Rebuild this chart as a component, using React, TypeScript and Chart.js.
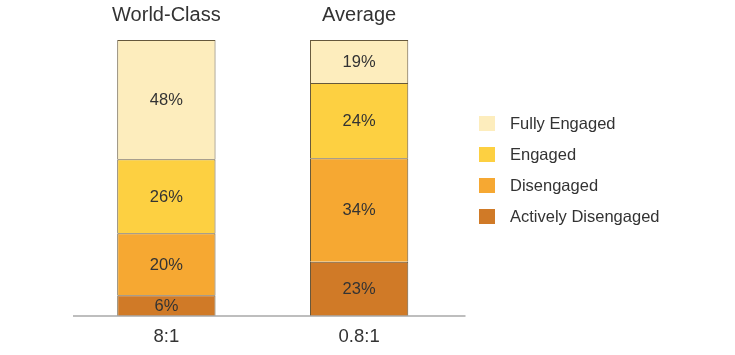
import React, { useEffect, useRef } from "react";
import { Chart, registerables } from "chart.js";

Chart.register(...registerables);

const ratios = ["8:1", "0.8:1"];
const groups = ["World-Class", "Average"];
const seriesNames = ["Actively Disengaged", "Disengaged", "Engaged", "Fully Engaged"];
const seriesColors = ["#D07A27", "#F6A832", "#FDD041", "#FDEDBD"];

// segment heights as drawn (percent of bar)
const activelyDisengaged = [7.5, 19.7];
const disengaged = [22.5, 37.5];
const engaged = [26.8, 27.2];
const fullyEngaged = [43.2, 15.6];

// printed labels
const activelyDisengagedLabels = ["6%", "23%"];
const disengagedLabels = ["20%", "34%"];
const engagedLabels = ["26%", "24%"];
const fullyEngagedLabels = ["48%", "19%"];

const FONT = "'Liberation Sans', Arial, sans-serif";
const TEXT = "#333333";

export default function App() {
  const ref = useRef<HTMLCanvasElement | null>(null);

  useEffect(() => {
    if (!ref.current) return;
    const values = [activelyDisengaged, disengaged, engaged, fullyEngaged];
    const labels = [activelyDisengagedLabels, disengagedLabels, engagedLabels, fullyEngagedLabels];

    const axisLine = {
      id: "axisLine",
      afterDatasetsDraw(chart: any) {
        const { ctx, chartArea } = chart;
        ctx.save();
        ctx.strokeStyle = "#a8a8a8";
        ctx.lineWidth = 1.5;
        ctx.beginPath();
        ctx.moveTo(chartArea.left + 3, chartArea.bottom);
        ctx.lineTo(chartArea.right + 10, chartArea.bottom);
        ctx.stroke();
        ctx.restore();
      },
    };

    const segLabels = {
      id: "segLabels",
      afterDatasetsDraw(chart: any) {
        const { ctx } = chart;
        ctx.save();
        ctx.font = `16.5px ${FONT}`;
        ctx.fillStyle = TEXT;
        ctx.textAlign = "center";
        ctx.textBaseline = "middle";
        chart.data.datasets.forEach((ds: any, di: number) => {
          const meta = chart.getDatasetMeta(di);
          meta.data.forEach((el: any, i: number) => {
            const y = (el.y + el.base) / 2;
            ctx.fillText(labels[di][i], el.x, y + 1);
          });
        });
        ctx.restore();
      },
    };

    const legend = {
      id: "customLegend",
      afterDraw(chart: any) {
        const { ctx, chartArea } = chart;
        ctx.save();
        const x0 = chartArea.right + 23.5;
        const order = [3, 2, 1, 0];
        order.forEach((di, k) => {
          const cy = chartArea.top + 83.5 + k * 31;
          ctx.fillStyle = seriesColors[di];
          ctx.fillRect(x0, cy - 7.5, 16, 15);
          ctx.fillStyle = TEXT;
          ctx.font = `16.5px ${FONT}`;
          ctx.textAlign = "left";
          ctx.textBaseline = "middle";
          ctx.fillText(seriesNames[di], x0 + 31, cy + 1);
        });
        ctx.restore();
      },
    };

    const chart = new Chart(ref.current, {
      type: "bar",
      data: {
        labels: ratios,
        datasets: seriesNames.map((name, di) => ({
          label: name,
          data: values[di],
          backgroundColor: seriesColors[di],
          borderColor: "#66583c",
          borderWidth: 1,
          barPercentage: 0.51,
          categoryPercentage: 1,
        })),
      },
      options: {
        responsive: false,
        animation: false,
        devicePixelRatio: 1,
        layout: { padding: { left: 70, right: 279.5, top: 0, bottom: 0 } },
        plugins: {
          legend: { display: false },
          tooltip: { enabled: false },
        },
        scales: {
          x: {
            stacked: true,
            position: "bottom",
            grid: { display: false, drawTicks: false },
            border: { display: false },
            ticks: { color: TEXT, font: { family: FONT, size: 18.5 }, padding: 10 },
            afterFit: (s: any) => {
              s.height = 39;
            },
          },
          x2: {
            type: "category",
            labels: groups,
            position: "top",
            grid: { display: false, drawTicks: false },
            border: { display: false },
            ticks: { color: TEXT, font: { family: FONT, size: 20 }, padding: 13 },
            afterFit: (s: any) => {
              s.height = 40;
            },
          },
          y: {
            stacked: true,
            display: false,
            min: 0,
            max: 100,
          },
        },
      },
      plugins: [axisLine, segLabels, legend],
    });
    return () => chart.destroy();
  }, []);

  return (
    <div style={{ position: "absolute", left: 0, top: 0, width: 735, height: 355, background: "#fff" }}>
      <canvas ref={ref} width={735} height={355} style={{ width: 735, height: 355 }} />
    </div>
  );
}
